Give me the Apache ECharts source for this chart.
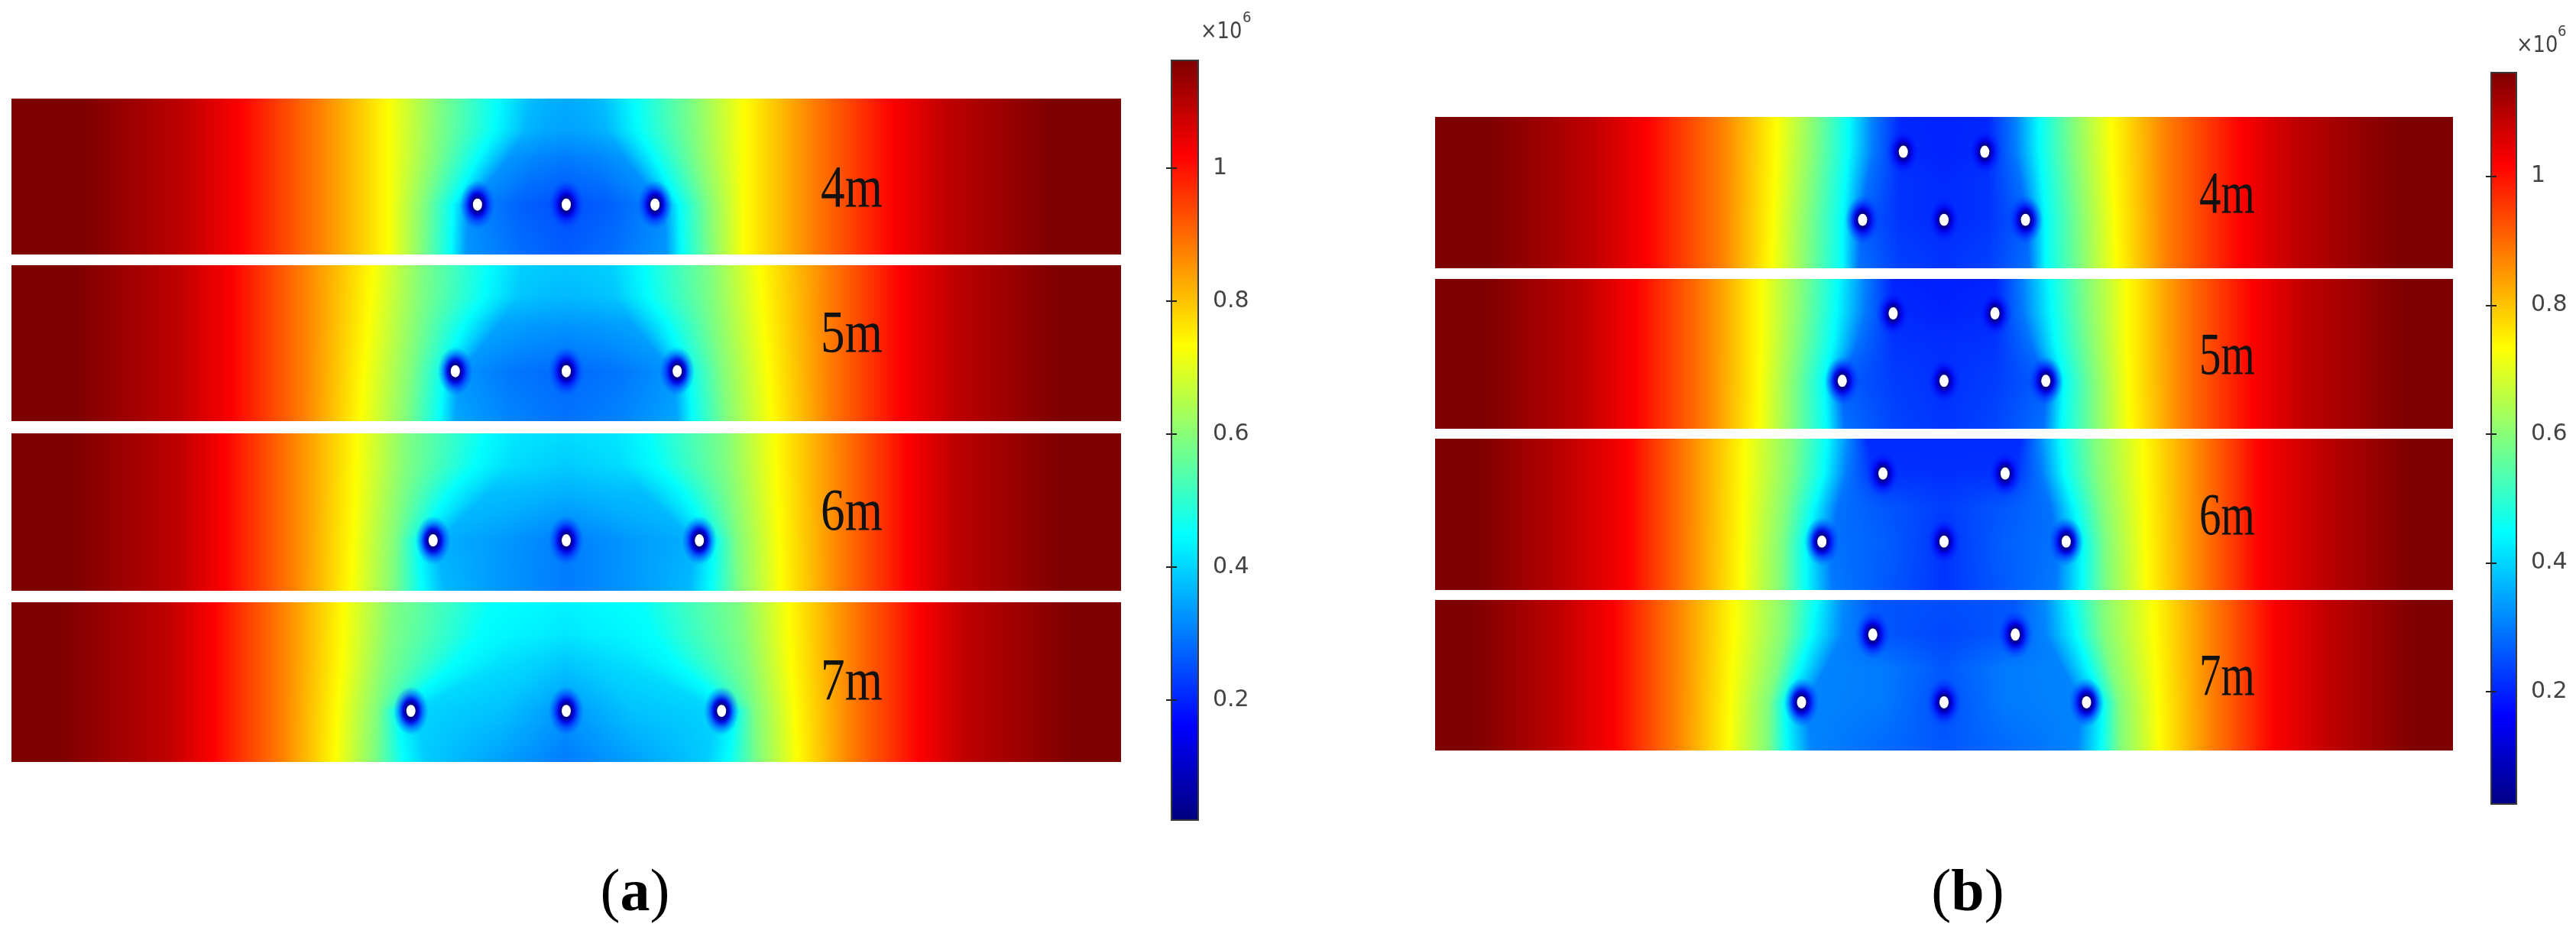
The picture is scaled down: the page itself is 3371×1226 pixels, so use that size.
<!DOCTYPE html>
<html>
<head>
<meta charset="utf-8">
<title>Pressure field</title>
<script src="https://cdn.jsdelivr.net/npm/echarts@6/dist/echarts.min.js"></script>
<style>
html, body { margin: 0; background: #fff; }
#main { width: 3371px; height: 1226px; }
</style>
</head>
<body>
<div id="main"></div>
<script>
// x is metres from the centre line (panel is 50 m wide), y is 0-10 up the panel
// Each "edges" row is one height in the panel: the distance from the
// centre line at which the field reaches each value in flankValues, then two inner read points.
// Each "core" row is the value at those two inner points and on the centre line (x10^6).
const flankValues = [1.16, 1.09, 1.02, 0.875, 0.73, 0.59, 0.45];
const spacings = ["4m", "5m", "6m", "7m"];

const levelsA = [10, 8, 6.2, 3.2, 0];
const edgesA4 = [
    [21.7, 17.2, 14.7, 11.1, 8, 5.7, 3.1, 1.6, 0.8],
    [21.7, 17.2, 14.7, 11.1, 8, 5.75, 3.25, 1.8, 0.9],
    [21.7, 17.2, 14.7, 11.1, 8, 5.9, 4.0, 2.6, 1.3],
    [21.7, 17.2, 14.7, 11.1, 8, 6.4, 5.1, 4.4, 2],
    [21.7, 17.2, 14.7, 11.1, 8, 6.5, 5.2, 4.5, 2],
];
const coreA4 = [[0.375, 0.36, 0.355], [0.365, 0.35, 0.345], [0.33, 0.31, 0.3], [0.32, 0.27, 0.25], [0.33, 0.285, 0.265]];
const edgesA5 = [
    [22, 17.5, 15.05, 11.8, 8.7, 6.5, 3.5, 2, 1],
    [22, 17.5, 15.05, 11.8, 8.8, 6.55, 3.7, 2.2, 1.1],
    [22, 17.5, 15.05, 11.8, 8.9, 6.7, 4.6, 3, 1.5],
    [22, 17.5, 15.05, 11.8, 9.1, 7, 5.5, 4.8, 2.5],
    [22, 17.5, 15.05, 11.8, 9.25, 7.2, 5.7, 5, 2.5],
];
const coreA5 = [[0.395, 0.39, 0.385], [0.385, 0.375, 0.37], [0.345, 0.335, 0.33], [0.33, 0.295, 0.28], [0.35, 0.31, 0.29]];
const edgesA6 = [
    [22.2, 17.5, 15.4, 12.3, 9.4, 7.16, 3.65, 2.2, 1.1],
    [22.2, 17.5, 15.4, 12.3, 9.45, 7.2, 4.1, 2.5, 1.3],
    [22.2, 17.5, 15.4, 12.3, 9.5, 7.4, 5.3, 3.5, 1.8],
    [22.2, 17.5, 15.4, 12.3, 9.6, 7.7, 6.65, 5.8, 3],
    [22.2, 17.5, 15.4, 12.3, 9.67, 7.8, 6.5, 5.5, 2.8],
];
const coreA6 = [[0.42, 0.415, 0.41], [0.41, 0.4, 0.39], [0.375, 0.37, 0.36], [0.36, 0.335, 0.3], [0.37, 0.33, 0.3]];
const edgesA7 = [
    [22.7, 18, 15.9, 12.8, 10, 7.8, 3.3, 1.8, 0.9],
    [22.7, 18, 15.9, 12.8, 10.05, 7.9, 3.9, 2.2, 1.1],
    [22.7, 18, 15.9, 12.8, 10.1, 8.1, 5, 3, 1.5],
    [22.7, 18, 15.9, 12.8, 10.3, 8.5, 7.6, 6.8, 3],
    [22.7, 18, 15.9, 12.8, 10.4, 8.65, 7.3, 6.3, 3],
];
const coreA7 = [[0.445, 0.44, 0.435], [0.435, 0.43, 0.42], [0.415, 0.4, 0.385], [0.4, 0.38, 0.33], [0.39, 0.34, 0.3]];

const levelsB = [10, 7.7, 5.5, 3.2, 0];
const edgesB4 = [
    [22.2, 17.3, 14.6, 10.9, 8.2, 6.3, 4.67, 3.5, 2.15],
    [22.2, 17.3, 14.6, 10.9, 8.25, 6.35, 4.7, 3.5, 2.2],
    [22.2, 17.3, 14.6, 10.9, 8.3, 6.5, 4.85, 3.8, 2.2],
    [22.2, 17.3, 14.6, 10.9, 8.4, 6.65, 5, 4, 2.2],
    [22.2, 17.3, 14.6, 10.9, 8.46, 6.7, 5, 4.2, 2.2],
];
const coreB4 = [[0.305, 0.205, 0.2], [0.3, 0.21, 0.2], [0.29, 0.22, 0.21], [0.27, 0.22, 0.21], [0.29, 0.235, 0.22]];
const edgesB5 = [
    [22.5, 17.8, 15.15, 11.65, 9, 6.95, 5.2, 3.85, 2.5],
    [22.5, 17.8, 15.15, 11.65, 9, 7, 5.3, 3.9, 2.5],
    [22.5, 17.8, 15.15, 11.65, 9, 7.15, 5.5, 4.3, 2.5],
    [22.5, 17.8, 15.15, 11.65, 9.05, 7.35, 5.9, 5, 2.5],
    [22.5, 17.8, 15.15, 11.65, 9.1, 7.4, 5.77, 4.9, 2.5],
];
const coreB5 = [[0.305, 0.2, 0.195], [0.3, 0.21, 0.2], [0.29, 0.22, 0.215], [0.27, 0.23, 0.215], [0.29, 0.24, 0.22]];
const edgesB6 = [
    [22.8, 18.6, 15.5, 12.6, 9.77, 7.4, 5.76, 4.75, 3.77],
    [22.8, 18.6, 15.5, 12.6, 9.8, 7.5, 5.9, 4.8, 3.5],
    [22.8, 18.6, 15.5, 12.6, 9.85, 7.75, 6.4, 5.2, 3],
    [22.8, 18.6, 15.5, 12.6, 9.9, 7.95, 6.8, 5.5, 3],
    [22.8, 18.6, 15.5, 12.6, 9.96, 8, 6.77, 5.5, 2],
];
const coreB6 = [[0.32, 0.21, 0.21], [0.3, 0.22, 0.215], [0.29, 0.26, 0.23], [0.29, 0.27, 0.22], [0.3, 0.25, 0.22]];
const edgesB7 = [
    [23, 19, 16.2, 13.15, 10.27, 7.75, 6.25, 5, 3.5],
    [23, 19, 16.2, 13.15, 10.3, 7.85, 6.5, 5, 3],
    [23, 19, 16.2, 13.15, 10.4, 8.2, 7.1, 5.8, 3],
    [23, 19, 16.2, 13.15, 10.5, 8.6, 7.8, 6.8, 3],
    [23, 19, 16.2, 13.15, 10.57, 8.65, 7.7, 6.5, 3],
];
const coreB7 = [[0.32, 0.26, 0.25], [0.31, 0.26, 0.24], [0.31, 0.3, 0.26], [0.31, 0.3, 0.25], [0.31, 0.28, 0.26]];

// Well positions, x in metres per panel
const wellsA4 = [[-4, 3.2], [0, 3.2], [4, 3.2]];
const wellsA5 = [[-5, 3.2], [0, 3.2], [5, 3.2]];
const wellsA6 = [[-6, 3.2], [0, 3.2], [6, 3.2]];
const wellsA7 = [[-7, 3.2], [0, 3.2], [7, 3.2]];
const wellsB4 = [[-2, 7.7], [2, 7.7], [-4, 3.2], [0, 3.2], [4, 3.2]];
const wellsB5 = [[-2.5, 7.7], [2.5, 7.7], [-5, 3.2], [0, 3.2], [5, 3.2]];
const wellsB6 = [[-3, 7.7], [3, 7.7], [-6, 3.2], [0, 3.2], [6, 3.2]];
const wellsB7 = [[-3.5, 7.7], [3.5, 7.7], [-7, 3.2], [0, 3.2], [7, 3.2]];

const labelPosA = [[12.86, 4.1], [12.86, 5.46], [12.86, 4.9], [12.86, 4.9]];
const labelPosB = [[13.9, 4.75], [13.9, 4.75], [13.9, 4.75], [13.9, 4.78]];

const barTicks = [0.2, 0.4, 0.6, 0.8, 1];
const jetValues = [0.02, 0.1625, 0.4475, 0.59, 0.7325, 1.0175, 1.16];
const jetColors = ["#00007f", "#0000ff", "#00ffff", "#7fff7f", "#ffff00", "#ff0000", "#7f0000"];

const jet = (v) => {
    if (v <= jetValues[0]) return jetColors[0];
    for (let i = 1; i < jetValues.length; i++) {
        if (v <= jetValues[i]) {
            const t = (v - jetValues[i - 1]) / (jetValues[i] - jetValues[i - 1]);
            return echarts.color.lerp(t, [jetColors[i - 1], jetColors[i]]);
        }
    }
    return jetColors[jetColors.length - 1];
};

// Gradient stops for one strip, blending the two read rows it lies between
const stripStops = (edges0, core0, edges1, core1, t) => {
    const left = [];
    const mix = (a, b) => a + (b - a) * t;
    edges0.forEach((e, i) => {
        const off = mix(e, edges1[i]);
        const val = i < flankValues.length ? flankValues[i] : mix(core0[i - flankValues.length], core1[i - flankValues.length]);
        left.push([off, val]);
    });
    const centre = mix(core0[2], core1[2]);
    const stops = [{ offset: 0, color: jet(flankValues[0]) }];
    left.forEach(([off, val]) => stops.push({ offset: (25 - off) / 50, color: jet(val) }));
    stops.push({ offset: 0.5, color: jet(centre) });
    left.slice().reverse().forEach(([off, val]) => stops.push({ offset: (25 + off) / 50, color: jet(val) }));
    stops.push({ offset: 1, color: jet(flankValues[0]) });
    return stops;
};

const panels = [
    { top: 129, height: 204, left: 15, width: 1452, levels: levelsA, edges: edgesA4, core: coreA4, wells: wellsA4, pos: labelPosA[0], text: spacings[0], sx: 0.8 },
    { top: 347, height: 204, left: 15, width: 1452, levels: levelsA, edges: edgesA5, core: coreA5, wells: wellsA5, pos: labelPosA[1], text: spacings[1], sx: 0.8 },
    { top: 567, height: 206, left: 15, width: 1452, levels: levelsA, edges: edgesA6, core: coreA6, wells: wellsA6, pos: labelPosA[2], text: spacings[2], sx: 0.8 },
    { top: 788, height: 209, left: 15, width: 1452, levels: levelsA, edges: edgesA7, core: coreA7, wells: wellsA7, pos: labelPosA[3], text: spacings[3], sx: 0.8 },
    { top: 153, height: 198, left: 1878, width: 1332, levels: levelsB, edges: edgesB4, core: coreB4, wells: wellsB4, pos: labelPosB[0], text: spacings[0], sx: 0.72 },
    { top: 365, height: 196, left: 1878, width: 1332, levels: levelsB, edges: edgesB5, core: coreB5, wells: wellsB5, pos: labelPosB[1], text: spacings[1], sx: 0.72 },
    { top: 574, height: 198, left: 1878, width: 1332, levels: levelsB, edges: edgesB6, core: coreB6, wells: wellsB6, pos: labelPosB[2], text: spacings[2], sx: 0.72 },
    { top: 785, height: 197, left: 1878, width: 1332, levels: levelsB, edges: edgesB7, core: coreB7, wells: wellsB7, pos: labelPosB[3], text: spacings[3], sx: 0.72 },
];

const bars = [
    { top: 79, height: 994, left: 1533, width: 35, min: 0.0195, max: 1.162 },
    { top: 95, height: 957, left: 3260, width: 33, min: 0.0255, max: 1.161 },
];

const grids = [];
const xAxes = [];
const yAxes = [];
const series = [];

panels.forEach((p, idx) => {
    grids.push({ left: p.left, top: p.top, width: p.width, height: p.height });
    xAxes.push({ gridIndex: idx, type: "value", min: -25, max: 25, show: false });
    yAxes.push({ gridIndex: idx, type: "value", min: 0, max: 10, show: false });

    // Field: one data item per pair of read rows, shaded as thin strips with a horizontal gradient
    series.push({
        type: "custom",
        coordinateSystem: "cartesian2d",
        xAxisIndex: idx,
        yAxisIndex: idx,
        silent: true,
        z: 2,
        data: p.levels.slice(1).map((y, i) => [-25, p.levels[i], 25, y]),
        renderItem: (params, api) => {
            const i = params.dataIndex;
            const tl = api.coord([api.value(0), api.value(1)]);
            const br = api.coord([api.value(2), api.value(3)]);
            const y0 = Math.round(tl[1]);
            const y1 = Math.round(br[1]);
            const children = [];
            for (let y = y0; y < y1; y += 2) {
                const t = (y + 1 - y0) / (y1 - y0);
                children.push({
                    type: "rect",
                    shape: { x: tl[0], y: y, width: br[0] - tl[0], height: Math.min(3, y1 - y) },
                    style: {
                        fill: new echarts.graphic.LinearGradient(0, 0, 1, 0,
                            stripStops(p.edges[i], p.core[i], p.edges[i + 1], p.core[i + 1], t)),
                    },
                });
            }
            return { type: "group", children };
        },
    });

    // Wells: blue halo and white core
    series.push({
        type: "custom",
        coordinateSystem: "cartesian2d",
        xAxisIndex: idx,
        yAxisIndex: idx,
        silent: true,
        clip: true,
        z: 3,
        data: p.wells,
        renderItem: (params, api) => {
            const c = api.coord([api.value(0), api.value(1)]);
            return {
                type: "group",
                children: [
                    {
                        type: "circle",
                        x: c[0], y: c[1], scaleY: 1.4,
                        shape: { cx: 0, cy: 0, r: 23 },
                        style: {
                            fill: new echarts.graphic.RadialGradient(0.5, 0.5, 0.5, [
                                { offset: 0, color: "#00008a" },
                                { offset: 0.3, color: "#000090" },
                                { offset: 0.45, color: "rgba(0,0,225,0.95)" },
                                { offset: 0.7, color: "rgba(0,20,255,0.45)" },
                                { offset: 1, color: "rgba(0,60,255,0)" },
                            ]),
                        },
                    },
                    {
                        type: "circle",
                        x: c[0], y: c[1], scaleY: 1.33,
                        shape: { cx: 0, cy: 0, r: 6 },
                        style: { fill: "#ffffff" },
                    },
                ],
            };
        },
    });

    // Spacing label
    series.push({
        type: "custom",
        coordinateSystem: "cartesian2d",
        xAxisIndex: idx,
        yAxisIndex: idx,
        silent: true,
        z: 4,
        data: [p.pos],
        renderItem: (params, api) => {
            const c = api.coord([api.value(0), api.value(1)]);
            return {
                type: "text",
                x: c[0], y: c[1], scaleX: p.sx,
                style: {
                    text: p.text,
                    x: 0, y: 0,
                    fill: "#111",
                    font: "79px 'Liberation Serif'",
                    align: "center",
                    verticalAlign: "middle",
                },
            };
        },
    });
});

bars.forEach((b, n) => {
    const idx = grids.length;
    grids.push({ left: b.left, top: b.top, width: b.width, height: b.height });
    xAxes.push({ gridIndex: idx, type: "value", min: 0, max: 1, show: false });
    const yBase = {
        gridIndex: idx,
        type: "value",
        min: b.min,
        max: b.max,
        splitLine: { show: false },
        z: 6,
        axisLine: { show: false },
    };
    yAxes.push({
        ...yBase,
        position: "right",
        axisTick: { show: true, inside: true, length: 7, lineStyle: { color: "#222", width: 2 }, customValues: barTicks },
        axisLabel: {
            inside: false, margin: 19, color: "#444", fontSize: 30, fontFamily: "DejaVu Sans",
            customValues: barTicks,
            formatter: (v) => String(v),
        },
    });
    const secondY = yAxes.length;
    yAxes.push({
        ...yBase,
        position: "left",
        axisTick: { show: true, inside: true, length: 7, lineStyle: { color: "#222", width: 2 }, customValues: barTicks },
        axisLabel: { show: false },
    });
    series.push({
        type: "custom",
        coordinateSystem: "cartesian2d",
        xAxisIndex: idx,
        yAxisIndex: secondY,
        silent: true,
        z: 2,
        data: [[0, b.min, 1, b.max]],
        renderItem: (params, api) => {
            const bl = api.coord([api.value(0), api.value(1)]);
            const tr = api.coord([api.value(2), api.value(3)]);
            const stops = jetValues
                .filter((v) => v > b.min && v < b.max)
                .map((v) => ({ offset: (b.max - v) / (b.max - b.min), color: jet(v) }))
                .reverse();
            stops.unshift({ offset: 0, color: jet(b.max) });
            stops.push({ offset: 1, color: jet(b.min) });
            return {
                type: "rect",
                shape: { x: bl[0], y: tr[1], width: tr[0] - bl[0], height: bl[1] - tr[1] },
                style: {
                    fill: new echarts.graphic.LinearGradient(0, 0, 0, 1, stops),
                    stroke: "#3a3a3a",
                    lineWidth: 2,
                },
            };
        },
    });
});

const chart = echarts.init(document.getElementById("main"), null, { renderer: "canvas" });

const smallText = (x, y, text, size, sx) => ({
    type: "text",
    x, y, scaleX: sx,
    style: { text, fill: "#444", font: size + "px 'DejaVu Sans'" },
});
const caption = (cx, letter) => ({
    type: "text",
    x: cx, y: 1171,
    style: {
        text: "({b|" + letter + "})",
        fill: "#000",
        font: "78px 'Liberation Serif'",
        align: "center",
        verticalAlign: "middle",
        rich: { b: { font: "bold 78px 'Liberation Serif'", fill: "#000" } },
    },
});

chart.setOption({
    animation: false,
    backgroundColor: "#fff",
    grid: grids,
    xAxis: xAxes,
    yAxis: yAxes,
    series: series,
    graphic: [
        smallText(1571, 27, "×10", 30, 0.86),
        smallText(1626, 14, "6", 20, 0.9),
        smallText(3293, 45, "×10", 30, 0.86),
        smallText(3347, 32, "6", 20, 0.9),
        caption(831, "a"),
        caption(2575, "b"),
    ],
});
</script>
</body>
</html>
